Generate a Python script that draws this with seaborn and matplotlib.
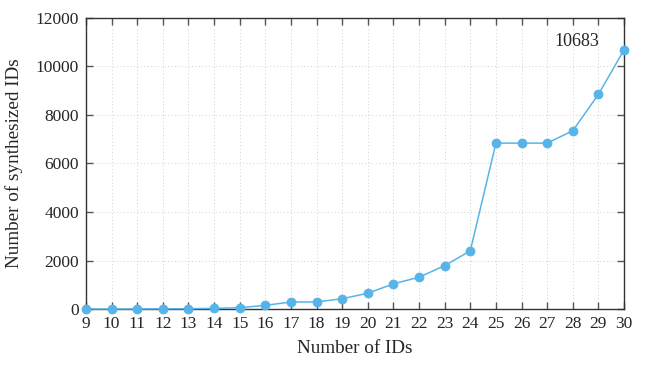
import matplotlib
matplotlib.use("Agg")
import matplotlib.pyplot as plt
import seaborn as sns
import pandas as pd

num_ids = list(range(9, 31))
synth = [1, 2, 4, 8, 14, 25, 55, 150, 290, 290, 425, 650, 1040, 1310, 1790, 2400,
         6840, 6840, 6840, 7350, 8850, 10683]
y_ticks = [0, 2000, 4000, 6000, 8000, 10000, 12000]
annot_text = "10683"

df = pd.DataFrame({"ids": num_ids, "synth": synth})

sns.set_style("ticks")
plt.rcParams['font.family'] = ['Liberation Serif', 'DejaVu Serif']

fig = plt.figure(figsize=(6.48, 3.67), dpi=100)
ax = fig.add_axes([0.1327, 0.158, 0.8303, 0.793])

color = "#56B4E9"
sns.lineplot(data=df, x="ids", y="synth", ax=ax, color=color, marker="o",
             markersize=6.3, markeredgecolor=color, linewidth=1.1, zorder=3, clip_on=False)

ax.set_xlim(9, 30)
ax.set_ylim(0, 12000)
ax.set_xticks(num_ids)
ax.set_yticks(y_ticks)
ax.grid(True, linestyle=(0, (1, 2.5)), color="#d0d0d0", linewidth=0.7)
ax.tick_params(direction="in", top=True, right=True, length=5, width=1,
               color="#555555", labelsize=12.5, pad=5)
for s in ax.spines.values():
    s.set_color("#333333")
    s.set_linewidth(1.0)

ax.set_xlabel("Number of IDs", fontsize=13.8, labelpad=6)
ax.set_ylabel("Number of synthesized IDs", fontsize=13.8, labelpad=9)
ax.annotate(annot_text, xy=(num_ids[-1], synth[-1]), xytext=(-34, 6),
            textcoords="offset points", ha="center", va="center", fontsize=13)

fig.savefig("out.png", dpi=100)
